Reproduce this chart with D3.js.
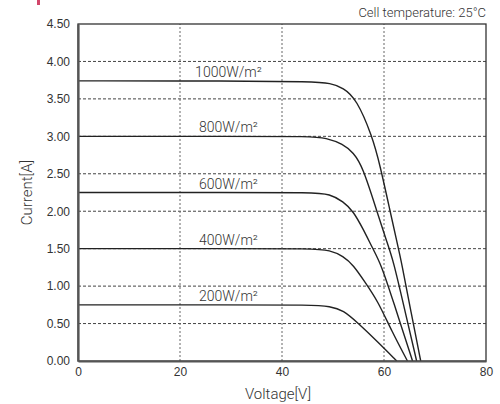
<!DOCTYPE html>
<meta charset="utf-8">
<title>I-V curves</title>
<body>
<script src="https://cdn.jsdelivr.net/npm/d3@7"></script>
<style>
html, body {
    margin: 0;
    background: #fff;
}
svg {
    display: block;
    font-family: Roboto, "Liberation Sans", sans-serif;
}
.tick text {
    fill: #333;
    font-size: 12px;
    font-weight: 300;
}
</style>
<svg></svg>
<script>
var width = 500,
    height = 404,
    margin = {top: 24, right: 14, bottom: 43, left: 78};

var xTicks = [0, 20, 40, 60, 80],
    yTicks = [0, 0.5, 1, 1.5, 2, 2.5, 3, 3.5, 4, 4.5];

var labels = ["1000W/m²", "800W/m²", "600W/m²", "400W/m²", "200W/m²"];

// voltage [V], current [A]
var v1000 = [0, 30, 46, 49.5, 52, 54.6, 57.7, 59.2, 61.2, 62.5, 63.5, 65.3, 67.2],
    i1000 = [3.74, 3.74, 3.73, 3.71, 3.65, 3.5, 3.0, 2.62, 2.0, 1.6, 1.3, 0.65, 0];
var v800 = [0, 30, 46, 48.5, 52, 54, 55.8, 58.6, 60.5, 61.8, 64.0, 66.4],
    i800 = [3.0, 3.0, 3.0, 2.98, 2.9, 2.78, 2.6, 2.0, 1.6, 1.35, 0.7, 0];
var v600 = [0, 30, 46, 49.4, 52, 54, 56, 57.8, 59.5, 61.8, 65.6],
    i600 = [2.25, 2.25, 2.25, 2.23, 2.13, 2.0, 1.75, 1.5, 1.28, 0.8, 0];
var v400 = [0, 30, 46, 49.4, 52, 54, 56.3, 58.8, 61.5, 64.6],
    i400 = [1.5, 1.5, 1.5, 1.48, 1.4, 1.28, 1.05, 0.8, 0.4, 0];
var v200 = [0, 30, 46, 49.4, 52, 55, 58.7, 62.5],
    i200 = [0.75, 0.75, 0.75, 0.73, 0.68, 0.5, 0.26, 0];

var series = [
    {v: v1000, i: i1000},
    {v: v800, i: i800},
    {v: v600, i: i600},
    {v: v400, i: i400},
    {v: v200, i: i200}
];

var svg = d3.select("svg")
    .attr("width", width)
    .attr("height", height);

var w = width - margin.left - margin.right,
    h = height - margin.top - margin.bottom;

var x = d3.scaleLinear().domain([0, 80]).range([margin.left, margin.left + w]);
var y = d3.scaleLinear().domain([0, 4.5]).range([margin.top + h, margin.top]);

// little red mark top left
svg.append("rect")
    .attr("x", 37).attr("y", 0)
    .attr("width", 3).attr("height", 5)
    .attr("fill", "#d2466a");

// grid
svg.append("g").selectAll("line")
    .data(yTicks.slice(1, -1))
    .enter().append("line")
    .attr("x1", x(0)).attr("x2", x(80))
    .attr("y1", function(d) { return y(d); })
    .attr("y2", function(d) { return y(d); })
    .attr("stroke", "#444")
    .attr("stroke-width", 1)
    .attr("stroke-dasharray", "3,2");

svg.append("g").selectAll("line")
    .data(xTicks.slice(1, -1))
    .enter().append("line")
    .attr("y1", y(0)).attr("y2", y(4.5))
    .attr("x1", function(d) { return x(d); })
    .attr("x2", function(d) { return x(d); })
    .attr("stroke", "#666")
    .attr("stroke-width", 1)
    .attr("stroke-dasharray", "2,2");

// frame
svg.append("rect")
    .attr("x", x(0)).attr("y", y(4.5))
    .attr("width", x(80) - x(0)).attr("height", y(0) - y(4.5))
    .attr("fill", "none")
    .attr("stroke", "#333")
    .attr("stroke-width", 1.3);

// curves
var line = d3.line()
    .x(function(d) { return x(d[0]); })
    .y(function(d) { return y(d[1]); })
    .curve(d3.curveBasis);

svg.append("g").selectAll("path")
    .data(series)
    .enter().append("path")
    .attr("d", function(s) { return line(d3.zip(s.v, s.i)); })
    .attr("fill", "none")
    .attr("stroke", "#222")
    .attr("stroke-width", 1.4);

svg.append("g").selectAll("text")
    .data(series)
    .enter().append("text")
    .attr("x", x(29.5))
    .attr("y", function(s) { return y(s.i[0]) - 4; })
    .attr("text-anchor", "middle")
    .attr("fill", "#333")
    .style("font-size", "14px")
    .style("font-weight", 300)
    .text(function(s, k) { return labels[k]; });

// axes
var gx = svg.append("g")
    .attr("transform", "translate(0," + y(0) + ")")
    .call(d3.axisBottom(x).tickValues(xTicks).tickSize(0).tickPadding(6));

var gy = svg.append("g")
    .attr("transform", "translate(" + x(0) + ",0)")
    .call(d3.axisLeft(y).tickValues(yTicks).tickFormat(d3.format(".2f")).tickSize(0).tickPadding(8));

gx.select(".domain").attr("stroke", "#555").attr("stroke-width", 2.2);
gy.select(".domain").attr("stroke", "#555").attr("stroke-width", 2.2);

svg.append("text")
    .attr("x", x(40) - 4)
    .attr("y", 399)
    .attr("text-anchor", "middle")
    .attr("fill", "#333")
    .style("font-size", "15px")
    .style("font-weight", 300)
    .text("Voltage[V]");

svg.append("text")
    .attr("transform", "translate(32," + y(2.25) + ")rotate(-90)")
    .attr("text-anchor", "middle")
    .attr("fill", "#333")
    .style("font-size", "15px")
    .style("font-weight", 300)
    .text("Current[A]");

svg.append("text")
    .attr("x", x(80))
    .attr("y", 17)
    .attr("text-anchor", "end")
    .attr("fill", "#333")
    .style("font-size", "13px")
    .style("font-weight", 300)
    .text("Cell temperature: 25°C");
</script>
